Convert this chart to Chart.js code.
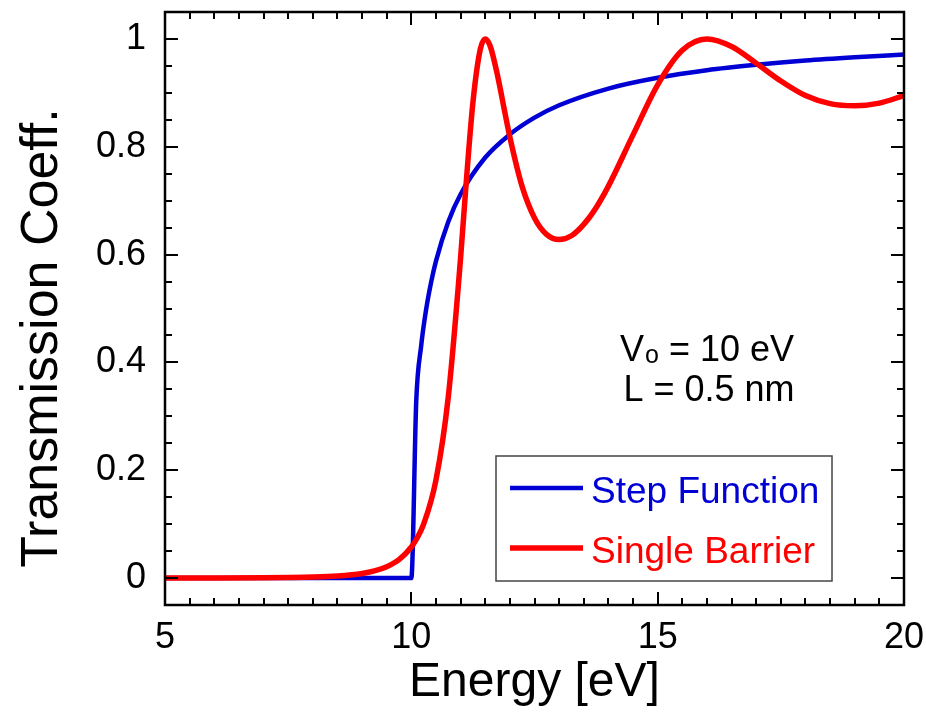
<!DOCTYPE html>
<html><head><meta charset="utf-8">
<script src="https://cdn.jsdelivr.net/npm/chart.js@4/dist/chart.umd.min.js"></script>
<style>html,body{margin:0;padding:0;background:#fff;overflow:hidden;} #wrap{width:926px;height:712px;position:relative;}</style>
</head><body><div id="wrap"><canvas id="c" width="926" height="712"></canvas></div>
<script>
// ---- data ----
const energyStep = [5, 10, 10.1, 10.2, 10.3, 10.4, 10.5, 10.75, 11, 11.5, 12, 12.5, 13, 14, 15, 16, 17, 18, 19, 20];
const transStep  = [0, 0, 0.329, 0.431, 0.498, 0.548, 0.588, 0.661, 0.712, 0.780, 0.823, 0.854, 0.877, 0.908, 0.928, 0.942, 0.952, 0.960, 0.966, 0.971];

const energyBarrier = [5, 6, 7, 7.5, 8, 8.5, 9, 9.25, 9.5, 9.75, 10, 10.1, 10.25, 10.5, 10.75, 11, 11.1, 11.25, 11.4, 11.5, 11.6, 11.75, 11.9, 12, 12.25, 12.5, 12.75, 13, 13.25, 13.5, 13.75, 14, 14.5, 15, 15.5, 16, 16.5, 17, 17.5, 18, 18.5, 19, 19.5, 20];
const transBarrier  = [0.00004, 0.00014, 0.00047, 0.0009, 0.0018, 0.0039, 0.0086, 0.0133, 0.021, 0.034, 0.0575, 0.0715, 0.100, 0.182, 0.336, 0.594, 0.717, 0.882, 0.981, 1.0, 0.987, 0.932, 0.863, 0.818, 0.726, 0.668, 0.637, 0.628, 0.635, 0.656, 0.687, 0.727, 0.822, 0.915, 0.979, 1.0, 0.986, 0.955, 0.922, 0.895, 0.880, 0.876, 0.881, 0.895];

const seriesLabels = ['Step Function', 'Single Barrier'];
const xTickValues = [5, 10, 15, 20];
const yTickValues = [0, 0.2, 0.4, 0.6, 0.8, 1];
const xTitle = 'Energy [eV]';
const yTitle = 'Transmission Coeff.';
const noteSymbol = 'V', noteSub = 'o', noteRest = ' = 10 eV';
const noteLine2 = 'L = 0.5 nm';

const FONT = '"Liberation Sans", Arial, Helvetica, sans-serif';
const BLUE = '#0000d4', RED = '#ff0000';

const toPts = (xs, ys) => xs.map((v, i) => ({x: v, y: ys[i]}));
const noPad = s => { s.paddingTop = 0; s.paddingBottom = 0; s.paddingLeft = 0; s.paddingRight = 0; };

const decorPlugin = {
  id: 'decor',
  afterDraw(chart) {
    const {ctx, chartArea: a, scales: {x, y}} = chart;
    ctx.save();
    // inward ticks on all four sides
    ctx.strokeStyle = '#000';
    ctx.lineWidth = 2;
    ctx.beginPath();
    for (let i = 0; i <= 30; i++) {
      const v = 5 + i * 0.5;
      const px = Math.round(x.getPixelForValue(v));
      const L = (i % 10 === 0) ? 13 : 7;
      ctx.moveTo(px, a.bottom); ctx.lineTo(px, a.bottom - L);
      ctx.moveTo(px, a.top); ctx.lineTo(px, a.top + L);
    }
    for (let i = 0; i <= 20; i++) {
      const v = i * 0.05;
      const py = Math.round(y.getPixelForValue(v));
      const L = (i % 4 === 0) ? 13 : 7;
      ctx.moveTo(a.left, py); ctx.lineTo(a.left + L, py);
      ctx.moveTo(a.right, py); ctx.lineTo(a.right - L, py);
    }
    ctx.stroke();
    // frame
    ctx.lineWidth = 2.5;
    ctx.strokeRect(a.left, a.top, a.right - a.left, a.bottom - a.top);

    // y title
    ctx.fillStyle = '#000';
    ctx.font = '52px ' + FONT;
    ctx.textAlign = 'center';
    ctx.textBaseline = 'alphabetic';
    ctx.save();
    ctx.translate(57, 338);
    ctx.rotate(-Math.PI / 2);
    ctx.fillText(yTitle, 0, 0);
    ctx.restore();

    // annotation
    ctx.textAlign = 'left';
    ctx.font = '36px ' + FONT;
    let x0 = 620;
    ctx.fillText(noteSymbol, x0, 361);
    x0 += ctx.measureText(noteSymbol).width;
    ctx.font = '25px ' + FONT;
    ctx.fillText(noteSub, x0 + 1, 363);
    x0 += ctx.measureText(noteSub).width + 1;
    ctx.font = '36px ' + FONT;
    ctx.fillText(noteRest, x0, 361);
    ctx.textAlign = 'center';
    ctx.fillText(noteLine2, 709, 401);

    // legend
    ctx.fillStyle = '#fff';
    ctx.fillRect(496, 456, 336, 125);
    ctx.strokeStyle = '#444';
    ctx.lineWidth = 1.5;
    ctx.strokeRect(496, 456, 336, 125);
    const rows = [{ly: 488, by: 503}, {ly: 548, by: 563}];
    chart.data.datasets.forEach((ds, i) => {
      ctx.strokeStyle = ds.borderColor;
      ctx.lineWidth = ds.borderWidth;
      ctx.beginPath();
      ctx.moveTo(510, rows[i].ly); ctx.lineTo(583, rows[i].ly);
      ctx.stroke();
      ctx.fillStyle = ds.borderColor;
      ctx.font = '37px ' + FONT;
      ctx.textAlign = 'left';
      ctx.fillText(ds.label, 591, rows[i].by);
    });
    ctx.restore();
  }
};

new Chart(document.getElementById('c'), {
  type: 'scatter',
  data: {
    datasets: [
      {label: seriesLabels[0], data: toPts(energyStep, transStep), showLine: true, borderColor: BLUE, backgroundColor: BLUE,
       borderWidth: 4.5, pointRadius: 0, cubicInterpolationMode: 'monotone', order: 1},
      {label: seriesLabels[1], data: toPts(energyBarrier, transBarrier), showLine: true, borderColor: RED, backgroundColor: RED,
       borderWidth: 5.5, pointRadius: 0, cubicInterpolationMode: 'monotone', order: 0}
    ]
  },
  options: {
    responsive: false,
    devicePixelRatio: 1,
    animation: false,
    events: [],
    layout: {padding: {top: 12, right: 22, left: 0, bottom: 0}},
    plugins: {legend: {display: false}, tooltip: {enabled: false}},
    scales: {
      x: {
        type: 'linear', min: 5, max: 20,
        grid: {display: false, drawTicks: false},
        border: {display: false},
        afterBuildTicks: s => { s.ticks = xTickValues.map(v => ({value: v})); },
        afterFit: s => { s.height = 107; noPad(s); },
        ticks: {color: '#000', font: {family: FONT, size: 36}, padding: 11, maxRotation: 0, autoSkip: false,
                callback: v => String(v)},
        title: {display: true, text: xTitle, color: '#000', font: {family: FONT, size: 48}, padding: {top: 0, bottom: 0}}
      },
      y: {
        type: 'linear', min: -0.05, max: 1.05,
        grid: {display: false, drawTicks: false},
        border: {display: false},
        afterBuildTicks: s => { s.ticks = yTickValues.map(v => ({value: v})); },
        afterFit: s => { s.width = 165; noPad(s); },
        ticks: {color: '#000', font: {family: FONT, size: 36}, padding: 19, autoSkip: false,
                callback: v => String(+v.toFixed(2))}
      }
    }
  },
  plugins: [decorPlugin]
});
</script>
</body></html>
